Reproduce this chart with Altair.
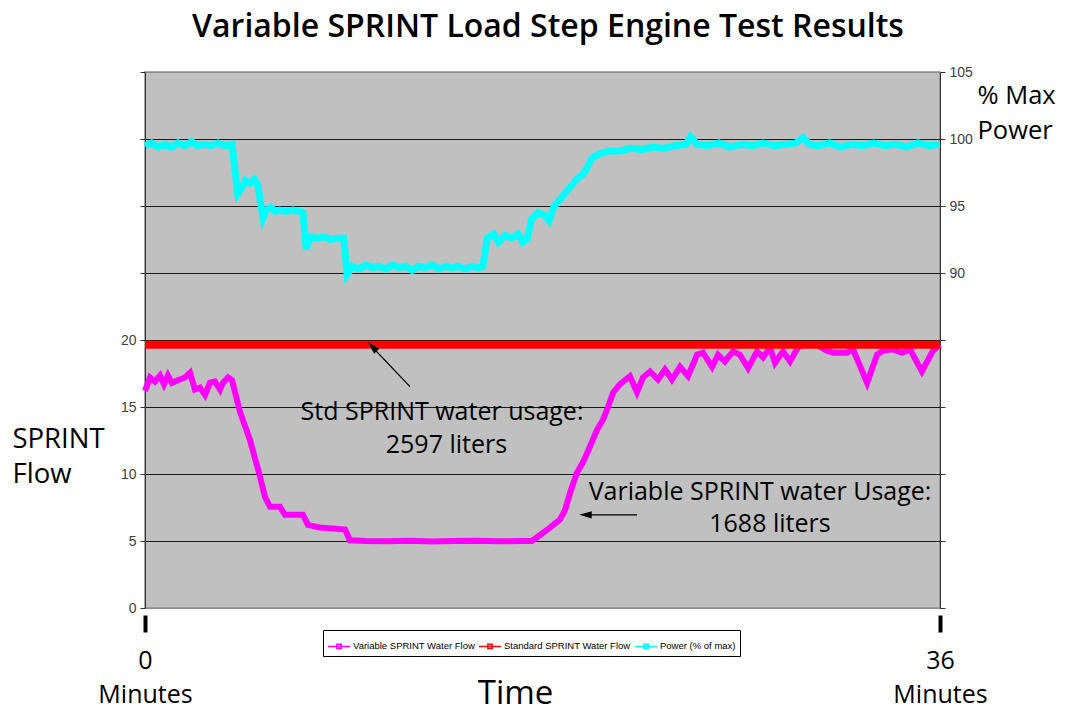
import altair as alt
import pandas as pd

# ---------------- data ----------------
chart_title = "Variable SPRINT Load Step Engine Test Results"
series_names = ["Variable SPRINT Water Flow", "Standard SPRINT Water Flow", "Power (% of max)"]
series_colors = ["#FF00FF", "#FF0000", "#00FFFF"]

var_time = [0.0, 0.23, 0.45, 0.68, 0.86, 1.04, 1.22, 1.49, 1.81, 2.04, 2.26, 2.49, 2.72, 2.94,
            3.17, 3.40, 3.53, 3.76, 3.94, 4.30, 4.75, 5.21, 5.43, 5.66, 6.11, 6.34, 7.15, 7.38,
            7.92, 9.06, 9.28, 10.0, 11.0, 12.0, 13.0, 14.0, 15.0, 16.0, 17.0, 17.52, 17.89,
            18.34, 18.79, 19.02, 19.25, 19.56, 19.83, 20.15, 20.47, 20.74, 20.97, 21.19, 21.51,
            21.96, 22.28, 22.55, 22.87, 23.23, 23.55, 23.86, 24.23, 24.59, 25.0, 25.27, 25.68,
            25.95, 26.26, 26.63, 26.94, 27.31, 27.71, 27.99, 28.3, 28.53, 28.89, 29.21, 29.57,
            29.89, 30.34, 30.88, 31.16, 31.79, 32.06, 32.7, 33.15, 33.42, 33.87, 34.28, 34.64,
            35.18, 35.68, 36.0]
var_flow = [16.2, 17.2, 16.9, 17.35, 16.7, 17.35, 16.8, 17.0, 17.2, 17.55, 16.3, 16.45, 15.9, 16.8,
            16.9, 16.3, 16.8, 17.2, 17.0, 14.65, 12.56, 9.8, 8.3, 7.55, 7.55, 6.95, 6.95, 6.2,
            6.0, 5.85, 5.05, 5.0, 4.98, 5.02, 4.97, 5.0, 5.02, 4.98, 5.0, 5.0, 5.45,
            6.0, 6.6, 7.3, 8.6, 10.1, 10.85, 12.05, 13.3, 14.05, 15.0, 16.05, 16.7,
            17.3, 16.1, 17.2, 17.65, 17.05, 17.8, 17.05, 18.0, 17.3, 18.9, 19.05, 18.0,
            18.9, 18.4, 19.15, 18.9, 17.9, 19.15, 18.7, 19.45, 18.3, 19.15, 18.4, 19.45,
            19.7, 19.7, 19.2, 19.05, 19.05, 19.3, 16.8, 18.9, 19.2, 19.3, 19.05, 19.3,
            17.65, 19.2, 19.65]

std_time = [0.0, 36.0]
std_flow = [19.65, 19.65]

pow_time = [0.0, 0.3, 0.6, 0.9, 1.2, 1.5, 1.8, 2.1, 2.4, 2.7, 3.0, 3.3, 3.6, 3.94,
            4.2, 4.4, 4.55, 4.75, 4.95, 5.1, 5.35, 5.5, 5.7, 5.9, 6.1, 6.4, 6.7, 7.0, 7.15,
            7.3, 7.5, 7.8, 8.1, 8.4, 8.7, 9.0, 9.15, 9.4, 9.7, 10.0, 10.3, 10.6, 10.9, 11.2,
            11.5, 11.8, 12.1, 12.4, 12.7, 13.0, 13.3, 13.6, 13.9, 14.2, 14.5, 14.8, 15.1, 15.3,
            15.5, 15.8, 16.0, 16.3, 16.6, 16.9, 17.1, 17.3, 17.5, 17.8, 18.1, 18.3, 18.5, 18.8,
            19.2, 19.6, 19.8, 20.0, 20.25, 20.6, 21.0, 21.5, 22.0, 22.5, 23.0, 23.5, 24.0, 24.5,
            24.7, 25.0, 25.5, 26.0, 26.5, 27.0, 27.5, 28.0, 28.5, 29.0, 29.5, 29.8, 30.1, 30.5,
            31.0, 31.5, 32.0, 32.5, 33.0, 33.5, 34.0, 34.5, 35.0, 35.5, 36.0]
pow_vals = [99.5, 99.7, 99.4, 99.6, 99.4, 99.7, 99.5, 99.8, 99.5, 99.6, 99.5, 99.7, 99.5, 99.6,
            95.9, 96.4, 96.9, 96.7, 97.0, 96.6, 94.1, 94.7, 94.9, 94.6, 94.7, 94.6, 94.7, 94.6, 94.5,
            91.8, 92.7, 92.6, 92.7, 92.5, 92.6, 92.6, 89.9, 90.5, 90.3, 90.6, 90.4, 90.5, 90.3, 90.6,
            90.4, 90.5, 90.2, 90.5, 90.4, 90.6, 90.3, 90.5, 90.4, 90.5, 90.3, 90.5, 90.4, 90.5,
            92.6, 92.9, 92.3, 92.8, 92.6, 92.9, 92.3, 92.5, 94.0, 94.5, 94.3, 93.9, 94.9, 95.5,
            96.3, 97.1, 97.3, 97.8, 98.6, 98.9, 99.1, 99.1, 99.3, 99.2, 99.4, 99.3, 99.5, 99.6,
            100.15, 99.6, 99.5, 99.7, 99.4, 99.6, 99.5, 99.7, 99.5, 99.6, 99.7, 100.1, 99.6, 99.5,
            99.7, 99.4, 99.6, 99.5, 99.7, 99.5, 99.6, 99.4, 99.7, 99.5, 99.6]

ann_text = ["Std SPRINT water usage:", "2597 liters", "Variable SPRINT water Usage:", "1688 liters"]
ann_time = [13.45, 13.65, 27.85, 28.3]
ann_flow = [14.65, 12.2, 8.65, 6.25]

arrow_id = ["a1", "a1", "a2", "a2"]
arrow_time = [12.0, 10.25, 22.28, 19.95]
arrow_flow = [16.52, 19.55, 6.95, 6.95]
head_time = [10.3, 19.95]
head_flow = [19.5, 6.95]
head_angle = [316, 270]

x_ticks = [0, 36]
flow_ticks = [0, 5, 10, 15, 20, 25, 30, 35, 40]
pow_ticks = [65, 70, 75, 80, 85, 90, 95, 100, 105]

# ---------------- frames ----------------
df_var = pd.DataFrame({"t": var_time, "v": var_flow, "series": series_names[0]})
df_std = pd.DataFrame({"t": std_time, "v": std_flow, "series": series_names[1]})
df_pow = pd.DataFrame({"t": pow_time, "p": pow_vals, "series": series_names[2]})
df_ann = pd.DataFrame({"t": ann_time, "v": ann_flow, "label": ann_text})
df_arr = pd.DataFrame({"t": arrow_time, "v": arrow_flow, "id": arrow_id})
df_head = pd.DataFrame({"t": head_time, "v": head_flow, "ang": head_angle})
df_title = pd.DataFrame({"title": [chart_title]})

LABEL_FONT = "Liberation Sans Narrow, Arial Narrow, Liberation Sans"
MAIN_FONT = "Open Sans"

x_enc = alt.X(
    "t:Q",
    scale=alt.Scale(domain=[0, 36], nice=False, zero=False),
    axis=alt.Axis(
        values=x_ticks, grid=False, domain=False, offset=7,
        tickSize=17, tickWidth=4, tickColor="black",
        labelExpr="[datum.label, 'Minutes']",
        labelFont=MAIN_FONT, labelFontSize=25, labelColor="black",
        labelLineHeight=34, labelPadding=36, labelBaseline="alphabetic",
        labelAlign="center", labelFlush=False, labelOverlap=False,
        title="Time", titleFont=MAIN_FONT, titleFontSize=33, titleFontWeight="normal",
        titleColor="black", titleX=370, titleY=88, titleAlign="center",
        titleBaseline="alphabetic", titleAnchor="start",
    ),
)

y_flow = alt.Y(
    "v:Q",
    scale=alt.Scale(domain=[0, 40], nice=False, zero=True),
    axis=alt.Axis(
        values=flow_ticks, grid=True,
        gridColor={"condition": {"test": "datum.value == 0 || datum.value == 40", "value": "#8c8c8c"},
                   "value": "#1a1a1a"},
        gridWidth=1,
        domainColor="#333333", tickColor="#333333", tickSize=5,
        labelExpr="datum.value <= 20 ? datum.label : ''",
        labelFont=LABEL_FONT, labelFontSize=14, labelColor="#404040", labelPadding=4,
        title=["SPRINT", "Flow"], titleAngle=0, titleAlign="left", titleAnchor="start",
        titleX=-133, titleY=375, titleBaseline="alphabetic",
        titleFont=MAIN_FONT, titleFontSize=27.5, titleFontWeight="normal", titleColor="black",
        titleLineHeight=35,
    ),
)

y_pow = alt.Y(
    "p:Q",
    scale=alt.Scale(domain=[65, 105], nice=False, zero=False),
    axis=alt.Axis(
        orient="right", values=pow_ticks, grid=False,
        domainColor="#333333", tickColor="#333333", tickSize=5,
        labelExpr="datum.value >= 90 ? datum.label : ''",
        labelFont=LABEL_FONT, labelFontSize=14, labelColor="#404040", labelPadding=4,
        title=["% Max", "Power"], titleAngle=0, titleAlign="left", titleAnchor="start",
        titleX=37, titleY=31, titleBaseline="alphabetic",
        titleFont=MAIN_FONT, titleFontSize=25.5, titleFontWeight="normal", titleColor="black",
        titleLineHeight=35,
    ),
)

color_enc = alt.Color(
    "series:N",
    scale=alt.Scale(domain=series_names, range=series_colors),
    legend=alt.Legend(
        title=None, orient="none", legendX=178, legendY=558, direction="horizontal",
        columns=3, strokeColor="black", fillColor="white", padding=4,
        symbolType="M-1,0H1M-0.2,-0.2H0.2V0.2H-0.2Z", symbolSize=484,
        symbolStrokeWidth=1.5, labelFont=LABEL_FONT, labelFontSize=9.5, labelColor="black",
        labelOffset=2, columnPadding=1,
    ),
)

var_line = alt.Chart(df_var).mark_line(strokeWidth=6).encode(x=x_enc, y=y_flow, color=color_enc)
std_line = alt.Chart(df_std).mark_line(strokeWidth=8).encode(x=x_enc, y=y_flow, color=color_enc)

ann = alt.Chart(df_ann).mark_text(font=MAIN_FONT, fontSize=25, color="black").encode(
    x=x_enc, y=y_flow, text="label:N")
arrows = alt.Chart(df_arr).mark_line(color="black", strokeWidth=1.2).encode(
    x=x_enc, y=y_flow, detail="id:N")
heads = alt.Chart(df_head).mark_point(
    shape="M0,-1L-0.6,1L0.6,1Z", filled=True, color="black", opacity=1, size=150
).encode(x=x_enc, y=y_flow, angle=alt.Angle("ang:Q", scale=None))

title_mark = alt.Chart(df_title).mark_text(
    font=MAIN_FONT, fontSize=32, fontWeight=600, color="black",
    align="center", baseline="alphabetic",
).encode(x=alt.value(403), y=alt.value(-35), text="title:N")

flow_layer = alt.layer(var_line, std_line, ann, arrows, heads, title_mark)

pow_line = alt.Chart(df_pow).mark_line(strokeWidth=7).encode(x=x_enc, y=y_pow, color=color_enc)

chart = alt.layer(flow_layer, pow_line).resolve_scale(y="independent").properties(
    width=795, height=536,
    padding={"left": 137, "top": 64, "right": 118, "bottom": 102},
    autosize=alt.AutoSizeParams(type="none"),
    background="white",
).configure_view(fill="#C0C0C0", stroke="#8c8c8c", strokeWidth=1.5)

chart.save("out.html", embed_options={"renderer": "svg", "actions": False})
